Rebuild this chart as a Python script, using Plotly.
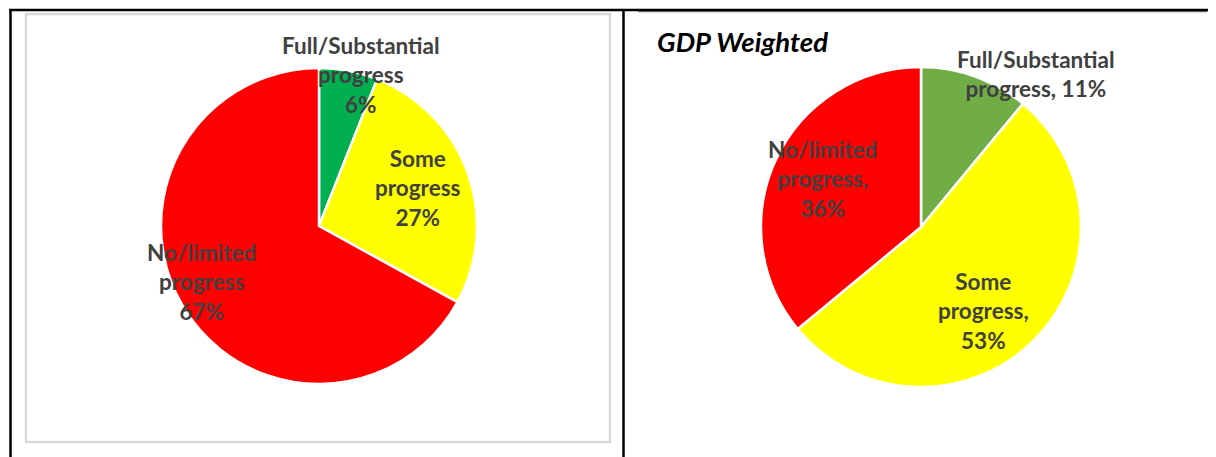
import plotly.graph_objects as go

# page has an 8px body margin; the figure covers the rest of the window
OX, OY = 8, 8
W, H = 1216 - OX, 457 - OY

# ---- data ----
categories = ["Full/Substantial progress", "Some progress", "No/limited progress"]
count_values = [6, 27, 67]          # left pie (%)
gdp_values = [11, 53, 36]           # right pie, GDP weighted (%)
count_colors = ["#00B050", "#FFFF00", "#FF0000"]
gdp_colors = ["#70AD47", "#FFFF00", "#FF0000"]
right_title = "GDP Weighted"

# label texts built from the data
left_labels = [
    f"Full/Substantial<br>progress<br>{count_values[0]}%",
    f"Some<br>progress<br>{count_values[1]}%",
    f"No/limited<br>progress<br>{count_values[2]}%",
]
right_labels = [
    f"Full/Substantial<br>progress, {gdp_values[0]}%",
    f"Some<br>progress,<br>{gdp_values[1]}%",
    f"No/limited<br>progress,<br>{gdp_values[2]}%",
]

# ---- helpers (window pixel -> paper) ----
def px(x):
    return (x - OX) / W

def py(y):
    return 1 - (y - OY) / H

def dom(cx, cy, r):
    return dict(x=[px(cx - r), px(cx + r)], y=[py(cy + r), py(cy - r)])

fig = go.Figure()
fig.add_trace(go.Pie(
    labels=categories, values=count_values, sort=False, direction="clockwise",
    rotation=0, marker=dict(colors=count_colors, line=dict(color="white", width=2.5)),
    textinfo="none", hoverinfo="skip", showlegend=False,
    domain=dom(319, 226, 158),
))
fig.add_trace(go.Pie(
    labels=categories, values=gdp_values, sort=False, direction="clockwise",
    rotation=0, marker=dict(colors=gdp_colors, line=dict(color="white", width=2.5)),
    textinfo="none", hoverinfo="skip", showlegend=False,
    domain=dom(921, 227, 160),
))

label_font = dict(family="Lato", size=22.5, color="#404040", weight="bold")
left_pos = [(361, 75), (418, 188), (202, 282)]
right_pos = [(1036, 74), (983, 311), (822, 179)]
annotations = []
for txt, (x, y) in zip(left_labels, left_pos):
    annotations.append(dict(text=txt, x=px(x), y=py(y), xref="paper", yref="paper",
                            showarrow=False, font=label_font, align="center",
                            xanchor="center", yanchor="middle"))
for txt, (x, y) in zip(right_labels, right_pos):
    annotations.append(dict(text=txt, x=px(x), y=py(y), xref="paper", yref="paper",
                            showarrow=False, font=label_font, align="center",
                            xanchor="center", yanchor="middle"))
annotations.append(dict(text=right_title, x=px(655), y=py(41), xref="paper", yref="paper",
                        showarrow=False, xanchor="left", yanchor="middle",
                        font=dict(family="Lato", size=27.5, color="black",
                                  weight="bold", style="italic")))

shapes = [
    # light grey chart frame (left)
    dict(type="rect", xref="paper", yref="paper", x0=px(26), x1=px(610), y0=py(442), y1=py(14),
         line=dict(color="#D9D9D9", width=2.5)),
    # grey line under top border (right)
    dict(type="line", xref="paper", yref="paper", x0=px(638), x1=px(1207), y0=py(11.5), y1=py(11.5),
         line=dict(color="#7F7F7F", width=1.5)),
    # black table borders
    dict(type="line", xref="paper", yref="paper", x0=px(9), x1=px(1216), y0=py(10), y1=py(10),
         line=dict(color="black", width=2.5)),
    dict(type="line", xref="paper", yref="paper", x0=px(10.5), x1=px(10.5), y0=py(10), y1=py(457),
         line=dict(color="black", width=2.5)),
    dict(type="line", xref="paper", yref="paper", x0=px(623.5), x1=px(623.5), y0=py(10), y1=py(457),
         line=dict(color="black", width=2.5)),
]

fig.update_layout(
    width=W, height=H, margin=dict(l=0, r=0, t=0, b=0),
    paper_bgcolor="white", plot_bgcolor="white",
    annotations=annotations, shapes=shapes,
)
fig.write_html("out.html")
